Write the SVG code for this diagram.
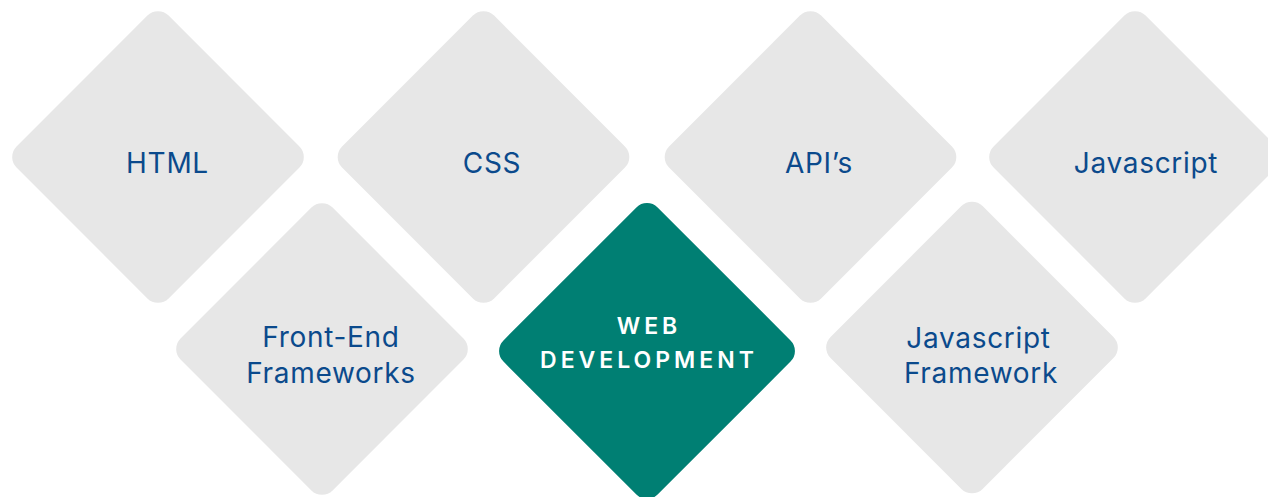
<svg xmlns="http://www.w3.org/2000/svg" width="1268" height="497" viewBox="0 0 1268 497">
  <style>
    .tile { fill: #E7E7E7; }
    .hub { fill: #007F73; }
    .lbl { font-family: Inter, "Liberation Sans", Arial, sans-serif; font-size: 28px; letter-spacing: 0.7px; fill: #0B4A8C; text-anchor: middle; }
    .hubl { font-family: Inter, "Liberation Sans", Arial, sans-serif; font-size: 23px; font-weight: 600; letter-spacing: 4px; fill: #FFFFFF; text-anchor: middle; }
  </style>
  <defs>
    <rect id="dia" x="-107.5" y="-107.5" width="215" height="215" rx="15" ry="15"/>
  </defs>
  <rect width="1268" height="497" fill="#FFFFFF"/>

  <g id="node-html">
    <use href="#dia" class="tile" transform="translate(158,157) rotate(45)"/>
    <text class="lbl" x="167.5" y="173">HTML</text>
  </g>
  <g id="node-css">
    <use href="#dia" class="tile" transform="translate(483.5,157) rotate(45)"/>
    <text class="lbl" x="492" y="173">CSS</text>
  </g>
  <g id="node-apis">
    <use href="#dia" class="tile" transform="translate(810.5,157) rotate(45)"/>
    <text class="lbl" x="819" y="173">API’s</text>
  </g>
  <g id="node-javascript">
    <use href="#dia" class="tile" transform="translate(1135,157) rotate(45)"/>
    <text class="lbl" x="1146" y="173">Javascript</text>
  </g>
  <g id="node-frontend">
    <use href="#dia" class="tile" transform="translate(322,349) rotate(45)"/>
    <text class="lbl" x="331" y="347">Front-End</text>
    <text class="lbl" x="331" y="383">Frameworks</text>
  </g>
  <g id="node-webdev">
    <rect class="hub" x="-109" y="-109" width="218" height="218" rx="15" ry="15" transform="translate(647,351) rotate(45)"/>
    <text class="hubl" x="649" y="334">WEB</text>
    <text class="hubl" x="649" y="368">DEVELOPMENT</text>
  </g>
  <g id="node-jsframework">
    <use href="#dia" class="tile" transform="translate(972,347.5) rotate(45)"/>
    <text class="lbl" x="978.5" y="348">Javascript</text>
    <text class="lbl" x="981" y="383">Framework</text>
  </g>
  <g id="connectors"/>
</svg>
